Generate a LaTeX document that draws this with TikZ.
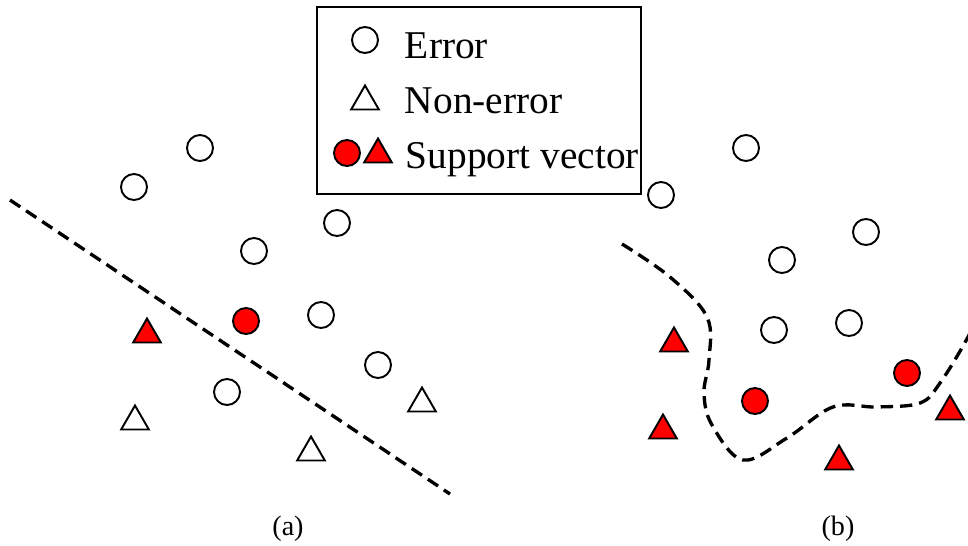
\documentclass[tikz,border=0pt]{standalone}
\usepackage{fontspec}
\setmainfont{Liberation Serif}
\usetikzlibrary{shapes.geometric}
\definecolor{svRed}{HTML}{FF0000}
\tikzset{
  sv/.style={line width=1.1pt, x=0.02cm, y=-0.02cm},
  err/.style={circle, draw=black, fill=white, line width=1.1pt, inner sep=0pt, minimum size=0.52cm},
  nonerr/.style={regular polygon, regular polygon sides=3, draw=black, fill=white, line width=1.1pt, inner sep=0pt, minimum size=0.64cm, yshift=-2pt},
  errsv/.style={err, fill=svRed},
  nonerrsv/.style={nonerr, fill=svRed},
  bound/.style={dash pattern=on 7pt off 4pt, line width=1.9pt},
  legtxt/.style={anchor=base west, font=\fontsize{22.4}{26}\selectfont, inner sep=0pt},
  captxt/.style={font=\fontsize{16}{18}\selectfont},
}
\begin{document}
\begin{tikzpicture}[sv]
\useasboundingbox (0,0) rectangle (968,545);

% (a)
\draw[bound] (10,200) -- (450,494);
\foreach \n/\x/\y in {ea1/200/148, ea2/134/187, ea3/254/251, ea4/337/223,
                      ea5/321/315, ea6/378/365, ea7/227/392}
  \node[err] (\n) at (\x,\y) {};
\node[errsv] (sa1) at (246,321) {};
\foreach \n/\x/\y in {na1/135/418, na2/311/449, na3/422/400}
  \node[nonerr] (\n) at (\x,\y) {};
\node[nonerrsv] (ta1) at (147,331) {};
\node[captxt] (capa) at (288,529) {(a)};

% (b)
\draw[bound] plot[smooth, tension=0.6] coordinates {(622,244) (670,277) (707,317) (709,360)
  (704,393) (712,425) (743,460) (787,438) (833,407) (877,407) (920,403) (940,383) (968,337) (985,300)};
\foreach \n/\x/\y in {eb1/746/148, eb2/661/195, eb3/782/260, eb4/866/232,
                      eb5/774/330, eb6/849/323}
  \node[err] (\n) at (\x,\y) {};
\foreach \n/\x/\y in {sb1/755/401, sb2/907/373}
  \node[errsv] (\n) at (\x,\y) {};
\foreach \n/\x/\y in {tb1/674/340, tb2/663/427, tb3/839/458, tb4/950/408}
  \node[nonerrsv] (\n) at (\x,\y) {};
\node[captxt] (capb) at (838,529) {(b)};

% legend
\node[draw, fill=white, line width=1.1pt, inner sep=0pt, minimum width=6.48cm, minimum height=3.74cm] (legend) at (479,100.5) {};
\node[err] (lerr) at (365,40) {};
\node[nonerr] (lnon) at (365,98) {};
\node[errsv] (lsvc) at (347,153) {};
\node[nonerrsv] (lsvt) at (378,151) {};
\node[legtxt] (lerrt) at (404,58) {Error};
\node[legtxt] (lnont) at (404,113) {Non-error};
\node[legtxt] (lsvtt) at (405,168) {Support vector};
\end{tikzpicture}
\end{document}
